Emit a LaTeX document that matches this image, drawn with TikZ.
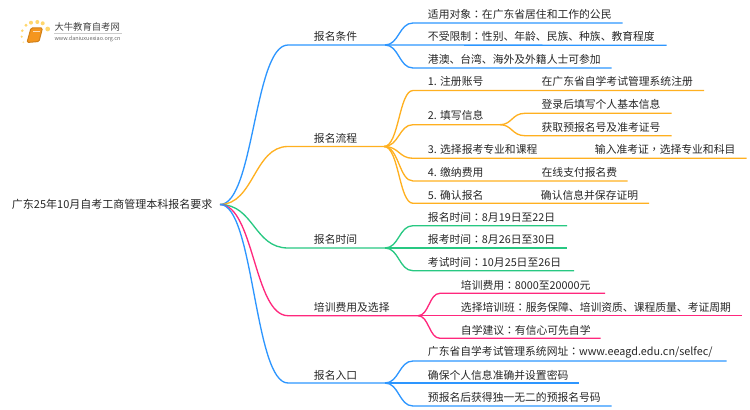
\documentclass[tikz,border=0pt]{standalone}
\usepackage{fontspec}
\setmainfont{Noto Sans CJK SC}
\newfontfamily\midpunct{Noto Sans CJK TC}
\newcommand{\zc}{{\midpunct ：}}
\definecolor{linkblue}{RGB}{45,150,255}
\definecolor{linkorange}{RGB}{255,176,32}
\definecolor{linkgreen}{RGB}{40,200,130}
\definecolor{linkpink}{RGB}{255,40,125}
\definecolor{bookorange}{RGB}{245,150,30}
\definecolor{dotyellow}{RGB}{255,215,110}
\tikzset{every picture/.style={line width=0.75pt}}
\tikzset{
  lbl/.style={anchor=west,inner sep=0pt,xshift=-0.4pt,font=\fontsize{8.1pt}{10pt}\selectfont,text=black!85},
  blink/.style={draw=linkblue,line width=1pt},
  olink/.style={draw=linkorange,line width=1pt},
  glink/.style={draw=linkgreen,line width=1pt},
  plink/.style={draw=linkpink,line width=1pt},
  logodot/.style={fill=dotyellow,draw=none}
}
\begin{document}
\begin{tikzpicture}[x=0.75pt,y=0.75pt,yscale=-1,xscale=1]
\useasboundingbox (0,0) rectangle (750,410);

%Logo
\fill [logodot] (47.7,29) circle (2.4);
\fill [logodot] (42.7,23.3) circle (2);
\fill [logodot] (37.3,22) circle (2);
\fill [logodot] (31,22.7) circle (2);
\fill [logodot] (26,25.3) circle (1.7);
\fill [logodot] (22.3,30.7) circle (1.4);
\fill [logodot] (21.7,36.7) circle (1.2);
\fill [logodot,fill opacity=0.6] (23.3,42.3) circle (1);
\draw [fill=bookorange,draw=bookorange!85!black,rounded corners=1] (31,28) -- (42.5,28) -- (39,41.5) -- (27,42.5) -- cycle;
\draw [white!70!bookorange,line width=0.6pt] (33,31) -- (39.5,31);
\draw [black!20] (54,33.3) -- (122,33.3);
\node (logotitle) [anchor=west,inner sep=0pt,font=\fontsize{7pt}{8pt}\selectfont,text=black!75] at (54,27) {大牛教育自考网};
\node (logourl) [anchor=west,inner sep=0pt,font=\fontsize{4.1pt}{5pt}\selectfont,text=black!60] at (54,38.9) {www.daniuxuexiao.org.cn};

% Text Node
\node (root) [lbl,font=\fontsize{8.25pt}{10pt}\selectfont] at (12,204) {广东25年10月自考工商管理本科报名要求};
\coordinate (rootend) at (220,204.5);

% Branch nodes
\node (tiaojian) [lbl] at (314,36) {报名条件};
\node (liucheng) [lbl] at (314,138) {报名流程};
\node (shijian) [lbl] at (314,239) {报名时间};
\node (peixun) [lbl] at (314,307) {培训费用及选择};
\node (rukou) [lbl] at (314,375) {报名入口};

\coordinate (tjA) at (288,45);
\coordinate (tjB) at (385,45);
\coordinate (lcA) at (288,146.5);
\coordinate (lcB) at (384,146.5);
\coordinate (sjA) at (288,248);
\coordinate (sjB) at (385,248);
\coordinate (pxA) at (288,315.7);
\coordinate (pxB) at (418,315.7);
\coordinate (rkA) at (288,383);
\coordinate (rkB) at (385,383);

%Root curves
\draw [blink] (rootend) .. controls (254,204.5) and (254,45) .. (tjA) -- (tjB);
\draw [olink] (rootend) .. controls (254,204.5) and (254,146.5) .. (lcA) -- (lcB);
\draw [glink] (rootend) .. controls (254,204.5) and (254,248) .. (sjA) -- (sjB);
\draw [plink] (rootend) .. controls (254,204.5) and (254,315.7) .. (pxA) -- (pxB);
\draw [blink] (rootend) .. controls (254,204.5) and (254,383) .. (rkA) -- (rkB);

% Text Node
\node (tj1) [lbl] at (428,14) {适用对象\zc 在广东省居住和工作的公民};
\node (tj2) [lbl] at (428,36) {不受限制\zc 性别、年龄、民族、种族、教育程度};
\node (tj3) [lbl] at (428,59) {港澳、台湾、海外及外籍人士可参加};
\coordinate (tj1a) at (413,23);
\coordinate (tj1b) at (622.7,23);
\coordinate (tj2b) at (666.7,45.3);
\coordinate (tj3a) at (413,68);
\coordinate (tj3b) at (611.7,68);
\draw [blink] (tjB) .. controls (399,45) and (399,23) .. (tj1a) -- (tj1b);
\draw [blink] (tjB) -- (tj2b);
\draw [blink] (tjB) .. controls (399,45) and (399,68) .. (tj3a) -- (tj3b);

% Text Node
\node (lc1) [lbl] at (428,81) {1. 注册账号};
\node (lc1x) [lbl] at (541.7,81) {在广东省自学考试管理系统注册};
\node (lc2) [lbl] at (428,115.5) {2. 填写信息};
\node (lc2x) [lbl] at (541.7,104) {登录后填写个人基本信息};
\node (lc2y) [lbl] at (541.7,127) {获取预报名号及准考证号};
\node (lc3) [lbl] at (428,149) {3. 选择报考专业和课程};
\node (lc3x) [lbl] at (595,149) {输入准考证{\midpunct ，}选择专业和科目};
\node (lc4) [lbl] at (428,172) {4. 缴纳费用};
\node (lc4x) [lbl] at (541.7,172) {在线支付报名费};
\node (lc5) [lbl] at (428,195) {5. 确认报名};
\node (lc5x) [lbl] at (541,195) {确认信息并保存证明};
\coordinate (lc1a) at (413,90.5);
\coordinate (lc1b) at (704,90.5);
\coordinate (lc2a) at (413,124.7);
\coordinate (lc2b) at (500,124.7);
\coordinate (lc2c) at (525,113.3);
\coordinate (lc2d) at (671.7,113.3);
\coordinate (lc2e) at (525,135.7);
\coordinate (lc2f) at (671.7,135.7);
\coordinate (lc3a) at (413,158.3);
\coordinate (lc3b) at (746.7,158.3);
\coordinate (lc4a) at (413,181);
\coordinate (lc4b) at (627.7,181);
\coordinate (lc5a) at (413,203.3);
\coordinate (lc5b) at (649,203.3);
\draw [olink] (lcB) .. controls (399,146.5) and (399,90.5) .. (lc1a) -- (lc1b);
\draw [olink] (lcB) .. controls (399,146.5) and (399,124.7) .. (lc2a) -- (lc2b);
\draw [olink] (lc2b) .. controls (512,124.7) and (512,113.3) .. (lc2c) -- (lc2d);
\draw [olink] (lc2b) .. controls (512,124.7) and (512,135.7) .. (lc2e) -- (lc2f);
\draw [olink] (lcB) .. controls (399,146.5) and (399,158.3) .. (lc3a) -- (lc3b);
\draw [olink] (lcB) .. controls (399,146.5) and (399,181) .. (lc4a) -- (lc4b);
\draw [olink] (lcB) .. controls (399,146.5) and (399,203.3) .. (lc5a) -- (lc5b);

% Text Node
\node (sj1) [lbl] at (428,217) {报名时间\zc 8月19日至22日};
\node (sj2) [lbl] at (428,239) {报考时间\zc 8月26日至30日};
\node (sj3) [lbl] at (428,262) {考试时间\zc 10月25日至26日};
\coordinate (sj1a) at (413,225.7);
\coordinate (sj1b) at (567,225.7);
\coordinate (sj2b) at (567,248);
\coordinate (sj3a) at (413,270.7);
\coordinate (sj3b) at (574,270.7);
\draw [glink] (sjB) .. controls (399,248) and (399,225.7) .. (sj1a) -- (sj1b);
\draw [glink] (sjB) -- (sj2b);
\draw [glink] (sjB) .. controls (399,248) and (399,270.7) .. (sj3a) -- (sj3b);

% Text Node
\node (px1) [lbl] at (461,285) {培训费用\zc 8000至20000元};
\node (px2) [lbl] at (461,307) {选择培训班\zc 服务保障、培训资质、课程质量、考证周期};
\node (px3) [lbl] at (461,330) {自学建议\zc 有信心可先自学};
\coordinate (px1a) at (440,293.3);
\coordinate (px1b) at (605,293.3);
\coordinate (px2b) at (742,315.7);
\coordinate (px3a) at (440,338.3);
\coordinate (px3b) at (600.7,338.3);
\draw [plink] (pxB) .. controls (429,315.7) and (429,293.3) .. (px1a) -- (px1b);
\draw [plink] (pxB) -- (px2b);
\draw [plink] (pxB) .. controls (429,315.7) and (429,338.3) .. (px3a) -- (px3b);

% Text Node
\node (rk1) [lbl] at (428,352) {广东省自学考试管理系统网址\zc www.eeagd.edu.cn/selfec/};
\node (rk2) [lbl] at (428,375) {确保个人信息准确并设置密码};
\node (rk3) [lbl] at (428,397) {预报名后获得独一无二的预报名号码};
\coordinate (rk1a) at (413,361);
\coordinate (rk1b) at (726.7,361);
\coordinate (rk2b) at (579,383);
\coordinate (rk3a) at (413,406);
\coordinate (rk3b) at (611.7,406);
\draw [blink] (rkB) .. controls (399,383) and (399,361) .. (rk1a) -- (rk1b);
\draw [blink] (rkB) -- (rk2b);
\draw [blink] (rkB) .. controls (399,383) and (399,406) .. (rk3a) -- (rk3b);

\end{tikzpicture}
\end{document}
